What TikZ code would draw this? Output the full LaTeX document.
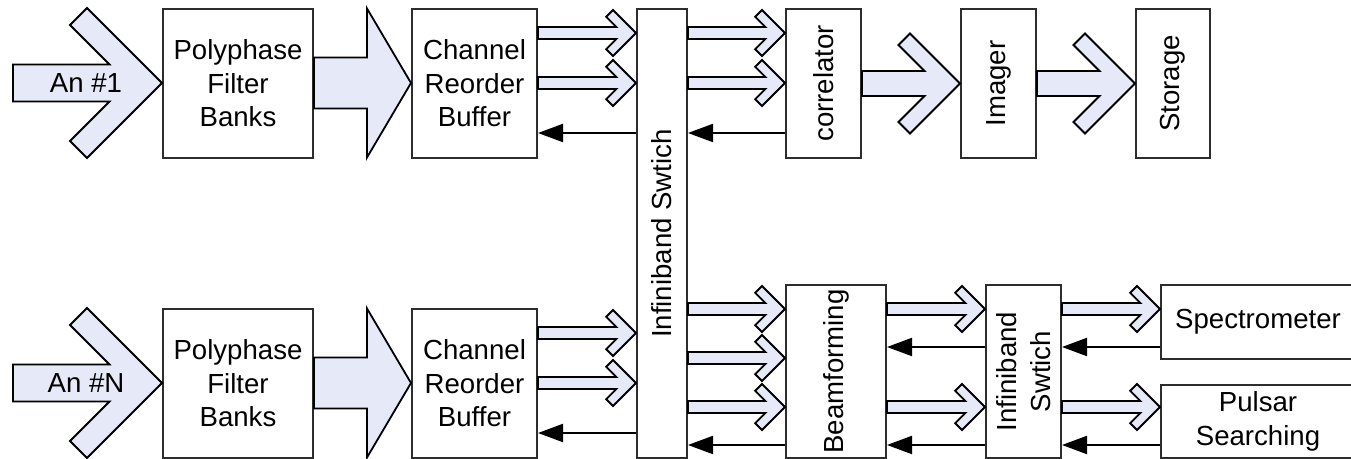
\documentclass[tikz,border=0pt]{standalone}
\usepackage{fontspec}
\setmainfont{Liberation Sans}
\usetikzlibrary{arrows.meta,calc}
\definecolor{arrfill}{RGB}{230,233,247}
\definecolor{boxline}{RGB}{45,45,45}
\tikzset{
  box/.style={draw=boxline, line width=1pt, fill=white, inner sep=0pt, align=center},
  lbl/.style={inner sep=0pt, align=center},
  fatarrow/.style={draw=black, line width=0.9pt, fill=arrfill, line join=miter},
  back/.style={draw=black, line width=1pt, -{Triangle[length=12.5pt,width=9pt]}},
}
% chevron arrow: #1 from point, #2 tip point, #3 centre y (px), #4 shaft half width, #5 head size, #6 arm offset
\newcommand\chev[6]{%
  \path[fatarrow] let \p1=#1, \p2=#2, \p3=(0,#3) in
    (\x1,{\y3+#4}) -- ({\x2-#4-2*#6},{\y3+#4}) -- ({\x2-#5-#6},{\y3+#5-#6})
    -- ({\x2-#5},{\y3+#5}) -- (\x2,\y3) -- ({\x2-#5},{\y3-#5})
    -- ({\x2-#5-#6},{\y3-#5+#6}) -- ({\x2-#4-2*#6},{\y3-#4}) -- (\x1,{\y3-#4}) -- cycle;}
% block arrow with triangular head: #1 from, #2 tip, #3 centre y (px)
\newcommand\blockarr[3]{%
  \path[fatarrow] let \p1=#1, \p2=#2, \p3=(0,#3) in
    (\x1,{\y3+12.75pt}) -- ({\x2-22pt},{\y3+12.75pt}) -- ({\x2-22pt},{\y3+37.25pt})
    -- (\x2,\y3) -- ({\x2-22pt},{\y3-37.25pt}) -- ({\x2-22pt},{\y3-12.75pt})
    -- (\x1,{\y3-12.75pt}) -- cycle;}
\begin{document}
\begin{tikzpicture}[x=0.5pt,y=-0.5pt, font=\fontsize{13.8}{16.8}\selectfont]
\useasboundingbox (0,0) rectangle (1351,459);

% ---------- boxes ----------
\node[box, minimum width=75pt, minimum height=74.5pt] (pfb1) at (238,83.5) {Polyphase\\Filter\\Banks};
\node[box, minimum width=62.5pt, minimum height=74.5pt] (crb1) at (474.5,83.5) {Channel\\Reorder\\Buffer};
\node[box, minimum width=25pt, minimum height=224.5pt] (ibs) at (662,233.5) {};
\node[lbl, rotate=90] (ibst) at (ibs) {Infiniband Swtich};
\node[box, minimum width=37.5pt, minimum height=74.5pt] (corr) at (823.5,83.5) {};
\node[lbl, rotate=90] (corrt) at (corr) {correlator};
\node[box, minimum width=37.5pt, minimum height=74.5pt] (img) at (998.5,83.5) {};
\node[lbl, rotate=90] (imgt) at (img) {Imager};
\node[box, minimum width=37pt, minimum height=74.5pt] (sto) at (1173,83.5) {};
\node[lbl, rotate=90] (stot) at (sto) {Storage};

\node[box, minimum width=75pt, minimum height=74.5pt] (pfbn) at (238,383.5) {Polyphase\\Filter\\Banks};
\node[box, minimum width=62.5pt, minimum height=74.5pt] (crbn) at (474.5,383.5) {Channel\\Reorder\\Buffer};
\node[box, minimum width=50pt, minimum height=86.5pt] (beam) at (836,371.5) {};
\node[lbl, rotate=90] (beamt) at (beam) {Beamforming};
\node[box, minimum width=37.5pt, minimum height=86.5pt] (ibs2) at (1023.5,371.5) {};
\node[lbl, rotate=90] (ibs2t) at (ibs2) {Infiniband\\Swtich};
\node[box, minimum width=97pt, minimum height=37pt] (spec) at (1258,322) {Spectrometer};
\node[box, minimum width=97pt, minimum height=36.5pt] (puls) at (1258,421.5) {Pulsar\\Searching};

% ---------- antenna inputs ----------
\coordinate (an1tail) at (13,83);
\coordinate (anntail) at (13,383);
\chev{(an1tail)}{(pfb1.west)}{83}{9.25pt}{37.5pt}{8.5pt}
\node[lbl] (an1) at (86,83) {An \#1};
\chev{(anntail)}{(pfbn.west)}{383}{9.25pt}{37.5pt}{8.5pt}
\node[lbl] (ann) at (86,383) {An \#N};

% ---------- block arrows PFB -> CRB ----------
\blockarr{(pfb1.east)}{(crb1.west)}{83}
\blockarr{(pfbn.east)}{(crbn.west)}{383}

% ---------- top row small arrows ----------
\chev{(crb1.east)}{(ibs.west)}{33}{3pt}{11.5pt}{3.4pt}
\chev{(crb1.east)}{(ibs.west)}{83}{3pt}{11.5pt}{3.4pt}
\chev{(ibs.east)}{(corr.west)}{33}{3pt}{11.5pt}{3.4pt}
\chev{(ibs.east)}{(corr.west)}{83}{3pt}{11.5pt}{3.4pt}
\draw[back] (ibs.west |- 0,133) -- (crb1.east |- 0,133);
\draw[back] (corr.west |- 0,133) -- (ibs.east |- 0,133);

\chev{(corr.east)}{(img.west)}{83.5}{6.25pt}{25pt}{5.75pt}
\chev{(img.east)}{(sto.west)}{83.5}{6.25pt}{25pt}{5.75pt}

% ---------- bottom row small arrows ----------
\chev{(crbn.east)}{(ibs.west)}{333}{3pt}{11.5pt}{3.4pt}
\chev{(crbn.east)}{(ibs.west)}{383}{3pt}{11.5pt}{3.4pt}
\draw[back] (ibs.west |- 0,433) -- (crbn.east |- 0,433);

\chev{(ibs.east)}{(beam.west)}{309}{3pt}{11.5pt}{3.4pt}
\chev{(ibs.east)}{(beam.west)}{358}{3pt}{11.5pt}{3.4pt}
\chev{(ibs.east)}{(beam.west)}{407}{3pt}{11.5pt}{3.4pt}
\draw[back] (beam.west |- 0,445) -- (ibs.east |- 0,445);

\chev{(beam.east)}{(ibs2.west)}{309}{3pt}{11.5pt}{3.4pt}
\chev{(beam.east)}{(ibs2.west)}{407}{3pt}{11.5pt}{3.4pt}
\draw[back] (ibs2.west |- 0,347) -- (beam.east |- 0,347);
\draw[back] (ibs2.west |- 0,445) -- (beam.east |- 0,445);

\chev{(ibs2.east)}{(spec.west)}{309}{3pt}{11.5pt}{3.4pt}
\chev{(ibs2.east)}{(puls.west)}{407}{3pt}{11.5pt}{3.4pt}
\draw[back] (spec.west |- 0,347) -- (ibs2.east |- 0,347);
\draw[back] (puls.west |- 0,445) -- (ibs2.east |- 0,445);
\end{tikzpicture}
\end{document}
